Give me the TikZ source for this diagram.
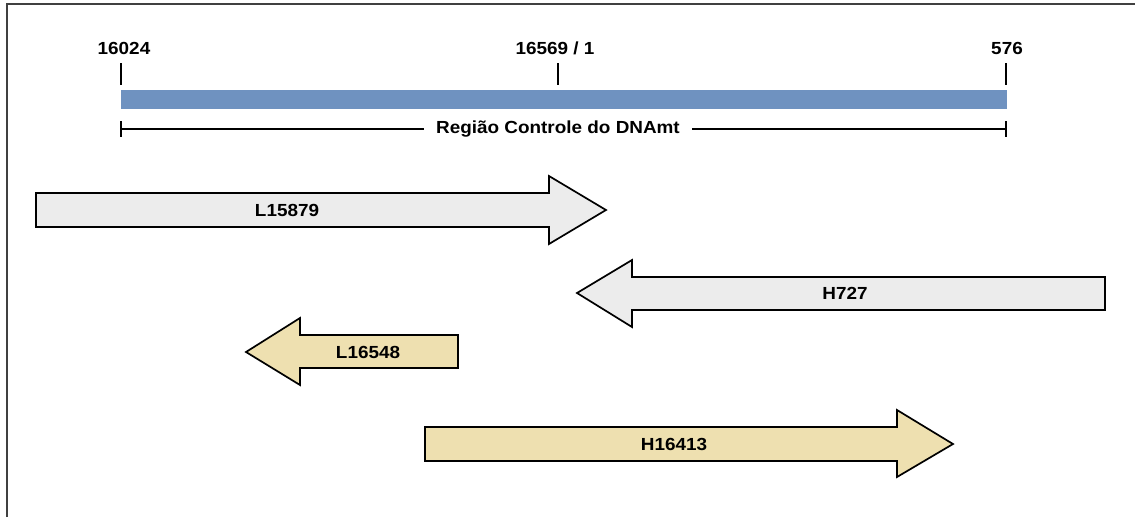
\documentclass[tikz,border=0pt]{standalone}
\usepackage{fontspec}
\newfontfamily\lblfont[FakeStretch=1.08]{Liberation Sans}
\usetikzlibrary{positioning}

\definecolor{barblue}{RGB}{111,146,192}
\definecolor{primgrey}{RGB}{236,236,236}
\definecolor{primbeige}{RGB}{238,224,176}

\begin{document}
\begin{tikzpicture}
        [x=1pt,y=-1pt,
        Lbl/.style={font=\lblfont\bfseries\fontsize{17.5}{20}\selectfont, inner sep=0pt},
        Tick/.style={line width=1.6pt},
        GreyPrimer/.style={draw=black, line width=1.7pt, fill=primgrey, line join=miter},
        BeigePrimer/.style={draw=black, line width=1.7pt, fill=primbeige, line join=miter}]

        % area of the figure
        \useasboundingbox (0,0) rectangle (1135,517);
        \draw[line width=2.2pt, black!75] (7,517) -- (7,4) -- (1135,4);

        % control region bar
        \fill[barblue] (121,90) rectangle (1007,109);

        % positions above the bar
        \coordinate (t_1) at (121,63);
        \coordinate (t_2) at (558,63);
        \coordinate (t_3) at (1006,63);
        \foreach \x in {1,2,3}
            \draw[Tick] (t_\x) -- ++(0,22);
        \node[Lbl] (p_1) at (124,48) {16024};
        \node[Lbl] (p_2) at (555,48) {16569 / 1};
        \node[Lbl] (p_3) at (1007,48) {576};

        % extent of the control region
        \coordinate (r_1) at (121,129);
        \coordinate (r_2) at (1006,129);
        \draw[line width=1.1pt] (121,121) -- (121,137);
        \draw[line width=1.1pt] (1006,121) -- (1006,137);
        \node[Lbl, inner xsep=12pt] (regiao) at (558,129) {Região Controle do DNAmt};
        \draw[line width=1.1pt] (r_1) -- (regiao.west);
        \draw[line width=1.1pt] (regiao.east) -- (r_2);

        % primers
        \draw[GreyPrimer] (36,193) -- (549,193) -- (549,176) -- (606,210) -- (549,244) -- (549,227) -- (36,227) -- cycle;
        \node[Lbl] (l15879) at (287,210) {L15879};

        \draw[GreyPrimer] (1105,277) -- (632,277) -- (632,260) -- (577,293) -- (632,327) -- (632,310) -- (1105,310) -- cycle;
        \node[Lbl] (h727) at (845,293) {H727};

        \draw[BeigePrimer] (458,335) -- (300,335) -- (300,318) -- (246,352) -- (300,385) -- (300,368) -- (458,368) -- cycle;
        \node[Lbl] (l16548) at (368,352) {L16548};

        \draw[BeigePrimer] (425,427) -- (897,427) -- (897,410) -- (953,444) -- (897,477) -- (897,461) -- (425,461) -- cycle;
        \node[Lbl] (h16413) at (674,444) {H16413};
    \end{tikzpicture}
\end{document}
